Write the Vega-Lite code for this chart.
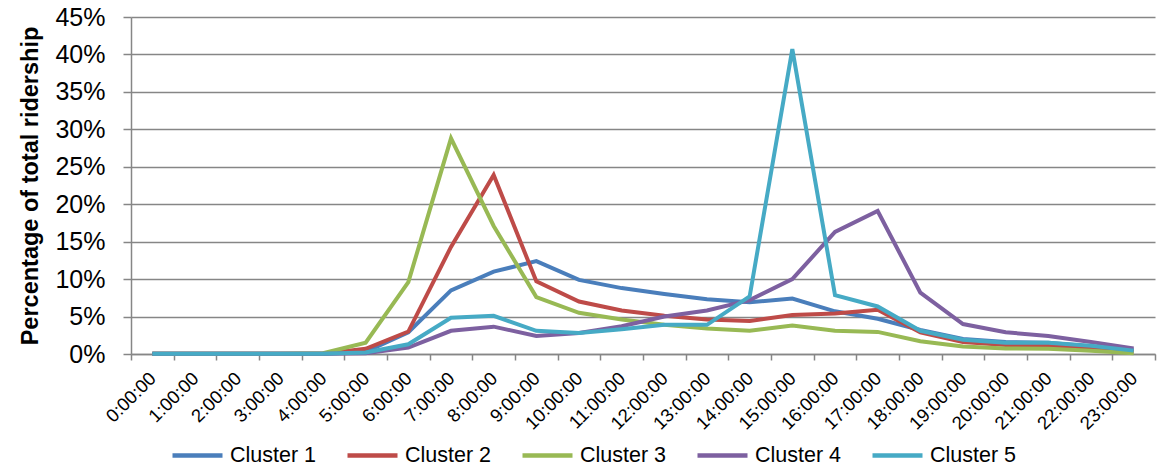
{
  "$schema": "https://vega.github.io/schema/vega-lite/v6.json",
  "autosize": "none",
  "padding": {"left": 131, "top": 17, "right": 5, "bottom": 119},
  "width": 1024,
  "height": 337,
  "background": "white",
  "config": {
    "view": {"stroke": null},
    "font": "Liberation Sans"
  },
  "data": {"values": [
    {"hour":"0:00:00","cluster":"Cluster 1","pct":0.05},{"hour":"1:00:00","cluster":"Cluster 1","pct":0.05},{"hour":"2:00:00","cluster":"Cluster 1","pct":0.05},{"hour":"3:00:00","cluster":"Cluster 1","pct":0.05},{"hour":"4:00:00","cluster":"Cluster 1","pct":0.05},{"hour":"5:00:00","cluster":"Cluster 1","pct":0.3},{"hour":"6:00:00","cluster":"Cluster 1","pct":2.9},{"hour":"7:00:00","cluster":"Cluster 1","pct":8.5},{"hour":"8:00:00","cluster":"Cluster 1","pct":11.0},{"hour":"9:00:00","cluster":"Cluster 1","pct":12.4},{"hour":"10:00:00","cluster":"Cluster 1","pct":9.9},{"hour":"11:00:00","cluster":"Cluster 1","pct":8.8},{"hour":"12:00:00","cluster":"Cluster 1","pct":8.0},{"hour":"13:00:00","cluster":"Cluster 1","pct":7.3},{"hour":"14:00:00","cluster":"Cluster 1","pct":6.9},{"hour":"15:00:00","cluster":"Cluster 1","pct":7.4},{"hour":"16:00:00","cluster":"Cluster 1","pct":5.7},{"hour":"17:00:00","cluster":"Cluster 1","pct":4.7},{"hour":"18:00:00","cluster":"Cluster 1","pct":3.2},{"hour":"19:00:00","cluster":"Cluster 1","pct":2.0},{"hour":"20:00:00","cluster":"Cluster 1","pct":1.6},{"hour":"21:00:00","cluster":"Cluster 1","pct":1.5},{"hour":"22:00:00","cluster":"Cluster 1","pct":1.0},{"hour":"23:00:00","cluster":"Cluster 1","pct":0.5},
    {"hour":"0:00:00","cluster":"Cluster 2","pct":0.05},{"hour":"1:00:00","cluster":"Cluster 2","pct":0.05},{"hour":"2:00:00","cluster":"Cluster 2","pct":0.05},{"hour":"3:00:00","cluster":"Cluster 2","pct":0.05},{"hour":"4:00:00","cluster":"Cluster 2","pct":0.05},{"hour":"5:00:00","cluster":"Cluster 2","pct":0.7},{"hour":"6:00:00","cluster":"Cluster 2","pct":3.0},{"hour":"7:00:00","cluster":"Cluster 2","pct":14.3},{"hour":"8:00:00","cluster":"Cluster 2","pct":23.9},{"hour":"9:00:00","cluster":"Cluster 2","pct":9.7},{"hour":"10:00:00","cluster":"Cluster 2","pct":7.0},{"hour":"11:00:00","cluster":"Cluster 2","pct":5.8},{"hour":"12:00:00","cluster":"Cluster 2","pct":5.1},{"hour":"13:00:00","cluster":"Cluster 2","pct":4.6},{"hour":"14:00:00","cluster":"Cluster 2","pct":4.4},{"hour":"15:00:00","cluster":"Cluster 2","pct":5.2},{"hour":"16:00:00","cluster":"Cluster 2","pct":5.4},{"hour":"17:00:00","cluster":"Cluster 2","pct":5.9},{"hour":"18:00:00","cluster":"Cluster 2","pct":2.9},{"hour":"19:00:00","cluster":"Cluster 2","pct":1.6},{"hour":"20:00:00","cluster":"Cluster 2","pct":1.2},{"hour":"21:00:00","cluster":"Cluster 2","pct":1.1},{"hour":"22:00:00","cluster":"Cluster 2","pct":0.85},{"hour":"23:00:00","cluster":"Cluster 2","pct":0.3},
    {"hour":"0:00:00","cluster":"Cluster 3","pct":0.05},{"hour":"1:00:00","cluster":"Cluster 3","pct":0.05},{"hour":"2:00:00","cluster":"Cluster 3","pct":0.05},{"hour":"3:00:00","cluster":"Cluster 3","pct":0.05},{"hour":"4:00:00","cluster":"Cluster 3","pct":0.1},{"hour":"5:00:00","cluster":"Cluster 3","pct":1.5},{"hour":"6:00:00","cluster":"Cluster 3","pct":9.6},{"hour":"7:00:00","cluster":"Cluster 3","pct":28.8},{"hour":"8:00:00","cluster":"Cluster 3","pct":17.1},{"hour":"9:00:00","cluster":"Cluster 3","pct":7.6},{"hour":"10:00:00","cluster":"Cluster 3","pct":5.5},{"hour":"11:00:00","cluster":"Cluster 3","pct":4.6},{"hour":"12:00:00","cluster":"Cluster 3","pct":3.9},{"hour":"13:00:00","cluster":"Cluster 3","pct":3.4},{"hour":"14:00:00","cluster":"Cluster 3","pct":3.1},{"hour":"15:00:00","cluster":"Cluster 3","pct":3.8},{"hour":"16:00:00","cluster":"Cluster 3","pct":3.1},{"hour":"17:00:00","cluster":"Cluster 3","pct":2.95},{"hour":"18:00:00","cluster":"Cluster 3","pct":1.7},{"hour":"19:00:00","cluster":"Cluster 3","pct":1.0},{"hour":"20:00:00","cluster":"Cluster 3","pct":0.75},{"hour":"21:00:00","cluster":"Cluster 3","pct":0.7},{"hour":"22:00:00","cluster":"Cluster 3","pct":0.45},{"hour":"23:00:00","cluster":"Cluster 3","pct":0.1},
    {"hour":"0:00:00","cluster":"Cluster 4","pct":0.05},{"hour":"1:00:00","cluster":"Cluster 4","pct":0.05},{"hour":"2:00:00","cluster":"Cluster 4","pct":0.05},{"hour":"3:00:00","cluster":"Cluster 4","pct":0.05},{"hour":"4:00:00","cluster":"Cluster 4","pct":0.05},{"hour":"5:00:00","cluster":"Cluster 4","pct":0.1},{"hour":"6:00:00","cluster":"Cluster 4","pct":0.85},{"hour":"7:00:00","cluster":"Cluster 4","pct":3.1},{"hour":"8:00:00","cluster":"Cluster 4","pct":3.65},{"hour":"9:00:00","cluster":"Cluster 4","pct":2.4},{"hour":"10:00:00","cluster":"Cluster 4","pct":2.8},{"hour":"11:00:00","cluster":"Cluster 4","pct":3.7},{"hour":"12:00:00","cluster":"Cluster 4","pct":5.0},{"hour":"13:00:00","cluster":"Cluster 4","pct":5.8},{"hour":"14:00:00","cluster":"Cluster 4","pct":7.2},{"hour":"15:00:00","cluster":"Cluster 4","pct":10.0},{"hour":"16:00:00","cluster":"Cluster 4","pct":16.3},{"hour":"17:00:00","cluster":"Cluster 4","pct":19.1},{"hour":"18:00:00","cluster":"Cluster 4","pct":8.2},{"hour":"19:00:00","cluster":"Cluster 4","pct":4.0},{"hour":"20:00:00","cluster":"Cluster 4","pct":2.9},{"hour":"21:00:00","cluster":"Cluster 4","pct":2.4},{"hour":"22:00:00","cluster":"Cluster 4","pct":1.6},{"hour":"23:00:00","cluster":"Cluster 4","pct":0.75},
    {"hour":"0:00:00","cluster":"Cluster 5","pct":0.05},{"hour":"1:00:00","cluster":"Cluster 5","pct":0.05},{"hour":"2:00:00","cluster":"Cluster 5","pct":0.05},{"hour":"3:00:00","cluster":"Cluster 5","pct":0.05},{"hour":"4:00:00","cluster":"Cluster 5","pct":0.05},{"hour":"5:00:00","cluster":"Cluster 5","pct":0.2},{"hour":"6:00:00","cluster":"Cluster 5","pct":1.3},{"hour":"7:00:00","cluster":"Cluster 5","pct":4.85},{"hour":"8:00:00","cluster":"Cluster 5","pct":5.1},{"hour":"9:00:00","cluster":"Cluster 5","pct":3.1},{"hour":"10:00:00","cluster":"Cluster 5","pct":2.8},{"hour":"11:00:00","cluster":"Cluster 5","pct":3.3},{"hour":"12:00:00","cluster":"Cluster 5","pct":3.9},{"hour":"13:00:00","cluster":"Cluster 5","pct":3.9},{"hour":"14:00:00","cluster":"Cluster 5","pct":7.7},{"hour":"15:00:00","cluster":"Cluster 5","pct":40.7},{"hour":"16:00:00","cluster":"Cluster 5","pct":7.85},{"hour":"17:00:00","cluster":"Cluster 5","pct":6.35},{"hour":"18:00:00","cluster":"Cluster 5","pct":3.1},{"hour":"19:00:00","cluster":"Cluster 5","pct":1.9},{"hour":"20:00:00","cluster":"Cluster 5","pct":1.5},{"hour":"21:00:00","cluster":"Cluster 5","pct":1.5},{"hour":"22:00:00","cluster":"Cluster 5","pct":1.1},{"hour":"23:00:00","cluster":"Cluster 5","pct":0.45}
  ]},
  "mark": {"type": "line", "strokeWidth": 4, "strokeJoin": "miter", "strokeCap": "butt"},
  "encoding": {
    "x": {
      "field": "hour", "type": "ordinal",
      "sort": ["0:00:00","1:00:00","2:00:00","3:00:00","4:00:00","5:00:00","6:00:00","7:00:00","8:00:00","9:00:00","10:00:00","11:00:00","12:00:00","13:00:00","14:00:00","15:00:00","16:00:00","17:00:00","18:00:00","19:00:00","20:00:00","21:00:00","22:00:00","23:00:00"],
      "scale": {"type": "band", "paddingInner": 0, "paddingOuter": 0},
      "axis": {
        "title": null, "labelAngle": -45, "labelAlign": "right", "labelBaseline": "middle",
        "labelFontSize": 18.5, "labelColor": "#000000", "labelPadding": 15,
        "tickBand": "extent", "tickSize": 6, "tickColor": "#868686", "tickWidth": 1.5,
        "domainColor": "#868686", "domainWidth": 1.5, "grid": false, "labelFlush": false,
        "labelOverlap": false
      }
    },
    "y": {
      "field": "pct", "type": "quantitative",
      "scale": {"domain": [0, 45], "nice": false},
      "axis": {
        "title": "Percentage of total ridership", "titleFontSize": 23.5, "titleFontWeight": "bold",
        "titleColor": "#000000", "titlePadding": 12,
        "values": [0,5,10,15,20,25,30,35,40,45],
        "labelExpr": "datum.value + '%'", "labelFontSize": 25, "labelColor": "#000000",
        "labelPadding": 18, "tickSize": 8, "tickColor": "#868686", "tickWidth": 1.5,
        "domainColor": "#868686", "domainWidth": 1.5,
        "grid": true, "gridColor": "#868686", "gridWidth": 1.5
      }
    },
    "color": {
      "field": "cluster", "type": "nominal",
      "scale": {"domain": ["Cluster 1","Cluster 2","Cluster 3","Cluster 4","Cluster 5"],
                "range": ["#4A7EBB","#BE4B48","#98B954","#7D60A0","#46AAC5"]},
      "legend": {
        "title": null, "orient": "none", "direction": "horizontal",
        "legendX": 39, "legendY": 411,
        "symbolType": "stroke", "symbolSize": 2500, "symbolStrokeWidth": 4.5,
        "labelFontSize": 21.5, "labelColor": "#000000", "labelOffset": 5,
        "columnPadding": 21, "labelLimit": 200
      }
    }
  }
}
